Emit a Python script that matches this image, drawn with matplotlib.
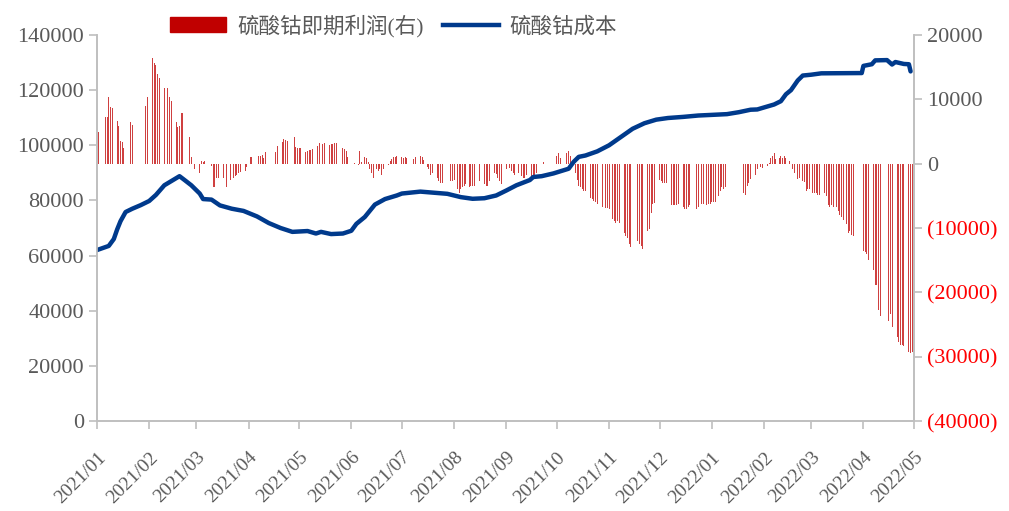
import matplotlib
matplotlib.use("Agg")
import matplotlib.pyplot as plt
import matplotlib.dates as mdates
import pandas as pd
from matplotlib.patches import Patch
from matplotlib.lines import Line2D
from matplotlib.ticker import FuncFormatter

# 硫酸钴成本 (left axis)
cost_dates = [
    "2021-01-01", "2021-01-08", "2021-01-11", "2021-01-13", "2021-01-15", "2021-01-18",
    "2021-01-22", "2021-01-27", "2021-02-01", "2021-02-05", "2021-02-10", "2021-02-19",
    "2021-02-22", "2021-02-26", "2021-03-03", "2021-03-05", "2021-03-10", "2021-03-15",
    "2021-03-22", "2021-03-29", "2021-04-06", "2021-04-13", "2021-04-20", "2021-04-27",
    "2021-05-06", "2021-05-11", "2021-05-14", "2021-05-20", "2021-05-27", "2021-06-01",
    "2021-06-04", "2021-06-09", "2021-06-15", "2021-06-21", "2021-06-28", "2021-07-01",
    "2021-07-12", "2021-07-20", "2021-07-28", "2021-08-05", "2021-08-12", "2021-08-19",
    "2021-08-26", "2021-09-01", "2021-09-07", "2021-09-15", "2021-09-17", "2021-09-22",
    "2021-09-29", "2021-10-08", "2021-10-11", "2021-10-14", "2021-10-18", "2021-10-25",
    "2021-11-01", "2021-11-08", "2021-11-15", "2021-11-22", "2021-11-29", "2021-12-06",
    "2021-12-15", "2021-12-24", "2021-12-31", "2022-01-10", "2022-01-17", "2022-01-24",
    "2022-01-28", "2022-02-07", "2022-02-11", "2022-02-14", "2022-02-17", "2022-02-21",
    "2022-02-24", "2022-03-01", "2022-03-07", "2022-03-31", "2022-04-01", "2022-04-06",
    "2022-04-08", "2022-04-15", "2022-04-18", "2022-04-20", "2022-04-25", "2022-04-28",
    "2022-04-29",
]
cost_vals = [
    62000, 63500, 66000, 69500, 72500, 75800,
    77000, 78300, 79800, 82000, 85500, 88800,
    87400, 85500, 82500, 80500, 80300, 78200,
    77000, 76200, 74200, 71800, 70000, 68600,
    68900, 68000, 68600, 67800, 68000, 69000,
    71500, 74000, 78500, 80500, 81800, 82500,
    83200, 82800, 82400, 81200, 80600, 80800,
    81800, 83600, 85500, 87400, 88500, 88800,
    89800, 91500, 94000, 95800, 96300, 97800,
    100000, 103000, 106000, 108000, 109300, 109900,
    110300, 110800, 111000, 111300, 112000, 112900,
    113000, 114800, 116000, 118500, 120000, 123500,
    125300, 125600, 126100, 126200, 128800, 129400,
    130800, 130900, 129300, 130200, 129500, 129400,
    126800,
]

# 硫酸钴即期利润 (right axis)
profit_dates = [
    "2021-01-02", "2021-01-06", "2021-01-07", "2021-01-08", "2021-01-09", "2021-01-10",
    "2021-01-13", "2021-01-14", "2021-01-15", "2021-01-16", "2021-01-17", "2021-01-20",
    "2021-01-21", "2021-01-22", "2021-01-30", "2021-01-31", "2021-02-03", "2021-02-04",
    "2021-02-05", "2021-02-06", "2021-02-07", "2021-02-10", "2021-02-11", "2021-02-12",
    "2021-02-13", "2021-02-14", "2021-02-17", "2021-02-18", "2021-02-19", "2021-02-20",
    "2021-02-21", "2021-02-25", "2021-02-26", "2021-02-27", "2021-02-28", "2021-03-03",
    "2021-03-04", "2021-03-05", "2021-03-06", "2021-03-10", "2021-03-11", "2021-03-12",
    "2021-03-13", "2021-03-14", "2021-03-17", "2021-03-18", "2021-03-19", "2021-03-21",
    "2021-03-23", "2021-03-24", "2021-03-25", "2021-03-26", "2021-03-27", "2021-03-30",
    "2021-03-31", "2021-04-02", "2021-04-03", "2021-04-07", "2021-04-08", "2021-04-09",
    "2021-04-10", "2021-04-11", "2021-04-17", "2021-04-18", "2021-04-21", "2021-04-22",
    "2021-04-23", "2021-04-24", "2021-04-25", "2021-04-28", "2021-04-29", "2021-04-30",
    "2021-05-01", "2021-05-02", "2021-05-05", "2021-05-06", "2021-05-07", "2021-05-08",
    "2021-05-09", "2021-05-12", "2021-05-13", "2021-05-14", "2021-05-15", "2021-05-16",
    "2021-05-19", "2021-05-20", "2021-05-21", "2021-05-22", "2021-05-23", "2021-05-27",
    "2021-05-28", "2021-05-29", "2021-05-30", "2021-06-02", "2021-06-03", "2021-06-05",
    "2021-06-06", "2021-06-07", "2021-06-09", "2021-06-10", "2021-06-11", "2021-06-12",
    "2021-06-13", "2021-06-14", "2021-06-16", "2021-06-17", "2021-06-18", "2021-06-19",
    "2021-06-20", "2021-06-23", "2021-06-24", "2021-06-25", "2021-06-26", "2021-06-27",
    "2021-06-28", "2021-07-01", "2021-07-02", "2021-07-03", "2021-07-04", "2021-07-07",
    "2021-07-08", "2021-07-09", "2021-07-10", "2021-07-12", "2021-07-13", "2021-07-14",
    "2021-07-16", "2021-07-17", "2021-07-18", "2021-07-19", "2021-07-22", "2021-07-23",
    "2021-07-24", "2021-07-25", "2021-07-26", "2021-07-29", "2021-07-30", "2021-07-31",
    "2021-08-01", "2021-08-03", "2021-08-04", "2021-08-05", "2021-08-06", "2021-08-07",
    "2021-08-08", "2021-08-10", "2021-08-11", "2021-08-12", "2021-08-13", "2021-08-14",
    "2021-08-16", "2021-08-19", "2021-08-20", "2021-08-21", "2021-08-22", "2021-08-25",
    "2021-08-26", "2021-08-27", "2021-08-28", "2021-08-29", "2021-09-01", "2021-09-03",
    "2021-09-04", "2021-09-05", "2021-09-06", "2021-09-08", "2021-09-10", "2021-09-11",
    "2021-09-12", "2021-09-13", "2021-09-16", "2021-09-17", "2021-09-18", "2021-09-19",
    "2021-09-23", "2021-09-24", "2021-09-25", "2021-09-27", "2021-10-01", "2021-10-02",
    "2021-10-03", "2021-10-07", "2021-10-08", "2021-10-09", "2021-10-10", "2021-10-12",
    "2021-10-13", "2021-10-14", "2021-10-15", "2021-10-16", "2021-10-17", "2021-10-18",
    "2021-10-21", "2021-10-22", "2021-10-23", "2021-10-24", "2021-10-25", "2021-10-28",
    "2021-10-29", "2021-10-30", "2021-10-31", "2021-11-01", "2021-11-03", "2021-11-04",
    "2021-11-05", "2021-11-06", "2021-11-07", "2021-11-10", "2021-11-11", "2021-11-12",
    "2021-11-13", "2021-11-14", "2021-11-17", "2021-11-18", "2021-11-19", "2021-11-20",
    "2021-11-21", "2021-11-24", "2021-11-25", "2021-11-26", "2021-11-27", "2021-11-28",
    "2021-12-01", "2021-12-02", "2021-12-03", "2021-12-04", "2021-12-05", "2021-12-08",
    "2021-12-09", "2021-12-10", "2021-12-11", "2021-12-12", "2021-12-15", "2021-12-16",
    "2021-12-17", "2021-12-18", "2021-12-19", "2021-12-22", "2021-12-23", "2021-12-24",
    "2021-12-25", "2021-12-26", "2021-12-27", "2021-12-29", "2021-12-30", "2021-12-31",
    "2022-01-01", "2022-01-02", "2022-01-03", "2022-01-05", "2022-01-06", "2022-01-07",
    "2022-01-08", "2022-01-09", "2022-01-20", "2022-01-21", "2022-01-22", "2022-01-23",
    "2022-01-24", "2022-01-27", "2022-01-28", "2022-01-29", "2022-01-30", "2022-01-31",
    "2022-02-03", "2022-02-04", "2022-02-05", "2022-02-06", "2022-02-07", "2022-02-08",
    "2022-02-10", "2022-02-11", "2022-02-12", "2022-02-13", "2022-02-14", "2022-02-16",
    "2022-02-17", "2022-02-18", "2022-02-19", "2022-02-20", "2022-02-21", "2022-02-22",
    "2022-02-24", "2022-02-25", "2022-02-26", "2022-02-27", "2022-02-28", "2022-03-02",
    "2022-03-03", "2022-03-04", "2022-03-05", "2022-03-06", "2022-03-09", "2022-03-10",
    "2022-03-11", "2022-03-12", "2022-03-13", "2022-03-14", "2022-03-16", "2022-03-17",
    "2022-03-18", "2022-03-19", "2022-03-20", "2022-03-22", "2022-03-23", "2022-03-24",
    "2022-03-25", "2022-03-26", "2022-03-27", "2022-04-01", "2022-04-02", "2022-04-03",
    "2022-04-04", "2022-04-07", "2022-04-08", "2022-04-09", "2022-04-10", "2022-04-11",
    "2022-04-15", "2022-04-16", "2022-04-17", "2022-04-18", "2022-04-21", "2022-04-22",
    "2022-04-23", "2022-04-24", "2022-04-25", "2022-04-28", "2022-04-29", "2022-04-30",
]
profit_vals = [
    4900, 7300, 7300, 10400, 8800, 8700,
    6700, 5800, 3600, 3400, 2500, 1500,
    6500, 6000, 9000, 10400, 16400, 15700,
    15300, 13900, 13300, 11700, 11700, 11700,
    10300, 9800, 6500, 5700, 5800, 7900,
    7800, 4100, 1100, -2200, -900, -1400,
    400, 300, 400, -400, -3600, -3600,
    -2200, -2200, -2200, -2500, -3600, -2500,
    -2200, -1900, -1700, -1400, -1300, -1200,
    -500, 1100, 1100, 1200, 1200, 1300,
    900, 1800, 1800, 2800, 3300, 3800,
    3700, 3600, 3300, 4100, 2600, 2500,
    2500, 2400, 1800, 1900, 2100, 2200,
    2300, 2800, 3200, 3100, 3100, 3200,
    2900, 3100, 3100, 3200, 3200, 2400,
    2300, 1900, 1000, 600, 100, -200,
    1900, 200, 1100, 900, 200, -900,
    -1400, -2200, -900, -1200, -900, -1700,
    -900, -200, 400, 700, 1000, 1000,
    1200, 1100, 900, 1100, 900, 1000,
    700, 1000, 900, 1200, 1000, 500,
    -500, -900, -1700, -1400, -2200, -2700,
    -3000, -3000, -2700, -2200, -2700, -2700,
    -2600, -4000, -4500, -4000, -3600, -3500,
    -3100, -3700, -3500, -3500, -3500, -3200,
    -2700, -3200, -3500, -3500, -2700, -1400,
    -1600, -2200, -2700, -3100, -900, -700,
    -1100, -1500, -1700, -1400, -1900, -2200,
    -2200, -1700, -2200, -2400, -1900, -1400,
    200, -100, -100, -100, 1200, 1600,
    900, 1700, 2000, 1200, 700, -1500,
    -2500, -3500, -3700, -4000, -4200, -4300,
    -5300, -5500, -5800, -6000, -6300, -6800,
    -6800, -6900, -6900, -7100, -8600, -8900,
    -9200, -8900, -9200, -10700, -11200, -11500,
    -12500, -13000, -11700, -12000, -12500, -12800,
    -13300, -10400, -10100, -7600, -6300, -6100,
    -2500, -2700, -3000, -3000, -3000, -6500,
    -6500, -6500, -6500, -6300, -6800, -7100,
    -7100, -6800, -6500, -6800, -7100, -6800,
    -6500, -6300, -6300, -6500, -6300, -6300,
    -6000, -6000, -6000, -5000, -4200, -3700,
    -4000, -3700, -4500, -4800, -3500, -3000,
    -2400, -1700, -900, -400, -500, -600,
    -300, 100, 900, 1200, 1700, 700,
    900, 1200, 900, 1200, 900, 400,
    -200, -900, -1400, -1900, -2400, -2200,
    -2700, -2900, -4200, -4000, -4000, -4500,
    -4500, -4600, -4800, -4800, -4500, -5000,
    -6500, -6800, -6500, -6800, -6800, -7300,
    -8000, -8300, -8800, -9300, -10700, -10400,
    -11100, -11300, -11900, -13500, -13700, -14000,
    -15000, -16600, -18900, -18900, -22800, -23600,
    -24400, -24400, -23300, -25400, -27000, -27700,
    -28200, -28200, -28300, -29300, -29500, -29300,
]

left_ticks = [0, 20000, 40000, 60000, 80000, 100000, 120000, 140000]
right_ticks = [-40000, -30000, -20000, -10000, 0, 10000, 20000]
bar_label = "硫酸钴即期利润(右)"
line_label = "硫酸钴成本"

plt.rcParams['font.family'] = ['Liberation Serif', 'Noto Sans CJK SC']
gray = '#595959'
axis_gray = '#BFBFBF'
red = '#C00000'
navy = '#003A8C'

fig = plt.figure(figsize=(10.09, 5.11), dpi=100)
ax = fig.add_axes([0.0961, 0.1761, 0.8097, 0.7554])
ax2 = ax.twinx()

pd_dates = pd.to_datetime(profit_dates)
ax2.bar(pd_dates, profit_vals, width=0.55, color=red, alpha=0.75, linewidth=0)
ax.plot(pd.to_datetime(cost_dates), cost_vals, color=navy, lw=3.2,
        solid_joinstyle='round', solid_capstyle='round')

# line on top of the bars
ax.set_zorder(ax2.get_zorder() + 1)
ax.patch.set_visible(False)

ax.set_xlim(pd.Timestamp("2021-01-01"), pd.Timestamp("2022-05-01"))
ax.set_ylim(0, 140000)
ax2.set_ylim(-40000, 20000)
ax.set_yticks(left_ticks)
ax2.set_yticks(right_ticks)

ax.xaxis.set_major_locator(mdates.MonthLocator())
ax.xaxis.set_major_formatter(mdates.DateFormatter('%Y/%m'))

ax2.yaxis.set_major_formatter(FuncFormatter(
    lambda v, p: f"({abs(int(v))})" if v < 0 else f"{int(v)}"))

for a in (ax, ax2):
    for s in a.spines.values():
        s.set_color(axis_gray)
        s.set_linewidth(1.2)
    a.spines['top'].set_visible(False)
    a.tick_params(colors=axis_gray, labelcolor=gray, labelsize=16, length=6, width=1.2)

ax.tick_params(axis='x', pad=14)
for lbl in ax.get_xticklabels():
    lbl.set_rotation(45)
    lbl.set_ha('right')
    lbl.set_va('top')
    lbl.set_rotation_mode('anchor')
    lbl.set_fontsize(14)

for v, lbl in zip(right_ticks, ax2.get_yticklabels()):
    if v < 0:
        lbl.set_color('#FF0000')

handles = [Patch(color=red), Line2D([], [], color=navy, lw=3.2)]
fig.legend(handles, [bar_label, line_label], loc='center left',
           bbox_to_anchor=(0.158, 0.949), ncol=2, frameon=False,
           handlelength=2.6, handletextpad=0.5, columnspacing=0.9,
           borderpad=0, prop={'size': 15.5}, labelcolor=gray)

fig.savefig('out.png', dpi=100)
